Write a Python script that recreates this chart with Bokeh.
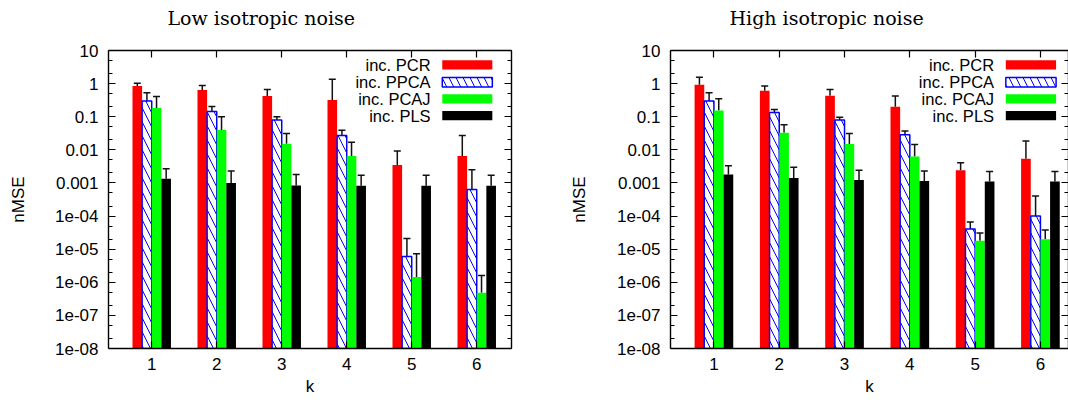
from bokeh.plotting import figure
from bokeh.models import (Range1d, LogAxis, LinearAxis, FixedTicker, ColumnDataSource,
                          Whisker, TeeHead)
from bokeh.layouts import row
from bokeh.core.properties import value
from bokeh.embed import file_html
from bokeh.resources import INLINE

# ---------------- data ----------------
K = [1, 2, 3, 4, 5, 6]
SERIES = ["inc. PCR", "inc. PPCA", "inc. PCAJ", "inc. PLS"]
TITLES = ["Low isotropic noise", "High isotropic noise"]

Y_TICKS = [10, 1, 0.1, 0.01, 0.001, 1e-4, 1e-5, 1e-6, 1e-7, 1e-8]
Y_TICK_LABELS = ["10", "1", "0.1", "0.01", "0.001", "1e-04", "1e-05", "1e-06", "1e-07", "1e-08"]

# Low isotropic noise: mean nMSE and upper error bar end
low_pcr = [0.85, 0.64, 0.42, 0.32, 0.0035, 0.0065]
low_pcr_err = [1.03, 0.88, 0.66, 1.35, 0.0092, 0.027]
low_ppca = [0.30, 0.145, 0.080, 0.027, 6.0e-6, 6.3e-4]
low_ppca_err = [0.53, 0.205, 0.10, 0.039, 2.1e-5, 2.5e-3]
low_pcaj = [0.185, 0.040, 0.0152, 0.0065, 1.45e-6, 4.8e-7]
low_pcaj_err = [0.41, 0.10, 0.031, 0.017, 7.3e-6, 1.6e-6]
low_pls = [0.00135, 0.00100, 0.00084, 0.00082, 0.00082, 0.00082]
low_pls_err = [0.0027, 0.0023, 0.0018, 0.0017, 0.0017, 0.0017]

# High isotropic noise
high_pcr = [0.92, 0.61, 0.43, 0.20, 0.0024, 0.0054]
high_pcr_err = [1.55, 0.84, 0.66, 0.42, 0.0041, 0.0185]
high_ppca = [0.30, 0.135, 0.080, 0.0285, 4.1e-5, 1.0e-4]
high_ppca_err = [0.53, 0.165, 0.097, 0.037, 6.6e-5, 4.0e-4]
high_pcaj = [0.155, 0.033, 0.015, 0.0063, 1.8e-5, 2.0e-5]
high_pcaj_err = [0.35, 0.057, 0.031, 0.0145, 3.1e-5, 3.8e-5]
high_pls = [0.0018, 0.0014, 0.00122, 0.00115, 0.0011, 0.0011]
high_pls_err = [0.0033, 0.0030, 0.0024, 0.0023, 0.0022, 0.0022]

# ---------------- style ----------------
COLORS = ["#ff0000", "#0000ff", "#00ff00", "#000000"]
BAR_W = 0.148
FONT = "Liberation Sans"
Y_MIN, Y_MAX = 1e-8, 10
X_START = 0.335
LEG_TEXT_X = 5.29
LEG_SW_L, LEG_SW_R = 5.47, 6.24
LEG_Y = [3.7, 1.1, 0.345, 0.108]
LEG_H = 10 ** 0.14

minor = []
for t in Y_TICKS[1:]:
    minor += [2 * t, 5 * t]


def style_axis(ax):
    ax.axis_line_width = 1.4
    ax.axis_line_color = "black"
    ax.major_tick_in = 7
    ax.major_tick_out = 0
    ax.minor_tick_in = 4
    ax.minor_tick_out = 0
    ax.major_tick_line_width = 1.2
    ax.minor_tick_line_width = 1.2
    ax.major_tick_line_color = "black"
    ax.minor_tick_line_color = "black"
    ax.major_label_text_font = FONT
    ax.major_label_text_font_size = "17px"
    ax.major_label_text_color = "black"
    ax.axis_label_text_font = FONT
    ax.axis_label_text_font_style = "normal"
    ax.axis_label_text_font_size = "17px"
    ax.axis_label_text_color = "black"


def make_panel(title, series, width, x_end, mbl, mbr, ylab_standoff):
    p = figure(width=width, height=400, x_range=Range1d(X_START, x_end),
               y_range=Range1d(Y_MIN, Y_MAX), y_axis_type="log",
               output_backend="svg", toolbar_location=None,
               min_border_left=mbl, min_border_right=mbr,
               min_border_top=50, min_border_bottom=52,
               background_fill_color="white", border_fill_color="white")
    p.outline_line_color = None
    p.xgrid.visible = False
    p.ygrid.visible = False

    # title: a blank second line lifts the text up to the top of the border
    p.title.text = title + "\n "
    p.title.text_font = "DejaVu Serif"
    p.title.text_font_size = "19px"
    p.title.text_font_style = "normal"
    p.title.text_color = "black"
    p.title.align = "left"
    p.title.offset = 59
    p.title.vertical_align = "bottom"
    p.title.standoff = 0

    xt = FixedTicker(ticks=K, minor_ticks=[])
    yt = FixedTicker(ticks=Y_TICKS, minor_ticks=minor)

    xa = p.xaxis[0]
    xa.ticker = xt
    xa.axis_label = "k"
    style_axis(xa)
    xa.major_label_standoff = 9
    xa.axis_label_standoff = 4

    ya = p.yaxis[0]
    ya.ticker = yt
    ya.major_label_overrides = {t: l for t, l in zip(Y_TICKS, Y_TICK_LABELS)}
    ya.axis_label = "nMSE"
    style_axis(ya)
    ya.major_label_standoff = 10
    ya.axis_label_standoff = ylab_standoff

    # mirrored tick marks on top and right (no labels)
    top = LinearAxis(ticker=xt)
    style_axis(top)
    top.major_label_overrides = {k: "" for k in K}
    top.major_label_text_font_size = "1px"
    top.major_label_standoff = 0
    p.add_layout(top, "above")
    right = LogAxis(ticker=yt)
    style_axis(right)
    right.major_label_overrides = {t: "" for t in Y_TICKS}
    right.major_label_text_font_size = "1px"
    right.major_label_standoff = 0
    p.add_layout(right, "right")

    for i, (vals, errs) in enumerate(series):
        xs = [k + (i - 1.5) * BAR_W for k in K]
        src = ColumnDataSource(dict(x=xs, top=vals, err=errs))
        if i == 1:
            p.vbar(x="x", width=BAR_W, top="top", bottom=Y_MIN, source=src,
                   fill_color="white", line_color=COLORS[i], line_width=1.5,
                   hatch_pattern="\\", hatch_color=COLORS[i], hatch_scale=14,
                   hatch_weight=1)
        else:
            p.vbar(x="x", width=BAR_W, top="top", bottom=Y_MIN, source=src,
                   fill_color=COLORS[i], line_color=None)
        w = Whisker(base="x", lower="top", upper="err", source=src,
                    line_color="#111111", line_width=1.5, lower_head=None,
                    upper_head=TeeHead(size=7, line_color="#111111", line_width=1.5))
        p.add_layout(w)

    # legend (label left of swatch, as in the original)
    p.text(x=[LEG_TEXT_X] * 4, y=LEG_Y, text=SERIES, text_align="right",
           text_baseline="middle", text_font=value(FONT),
           text_font_size="16.5px", text_color="black")
    for i in range(4):
        y = LEG_Y[i]
        if i == 1:
            p.quad(left=[LEG_SW_L], right=[LEG_SW_R], bottom=[y / LEG_H], top=[y * LEG_H],
                   fill_color="white", line_color=COLORS[i], line_width=1.5,
                   hatch_pattern="\\", hatch_color=COLORS[i], hatch_scale=14,
                   hatch_weight=1)
        else:
            p.quad(left=[LEG_SW_L], right=[LEG_SW_R], bottom=[y / LEG_H], top=[y * LEG_H],
                   fill_color=COLORS[i], line_color=None)
    return p


low = [(low_pcr, low_pcr_err), (low_ppca, low_ppca_err),
       (low_pcaj, low_pcaj_err), (low_pls, low_pls_err)]
high = [(high_pcr, high_pcr_err), (high_ppca, high_ppca_err),
        (high_pcaj, high_pcaj_err), (high_pls, high_pls_err)]

p1 = make_panel(TITLES[0], low, 567, 6.535, 108, 56, 24)
p2 = make_panel(TITLES[1], high, 501, 6.43, 103, 0, 25)

layout = row(p1, p2)
open("out.html", "w").write(file_html(layout, INLINE))
